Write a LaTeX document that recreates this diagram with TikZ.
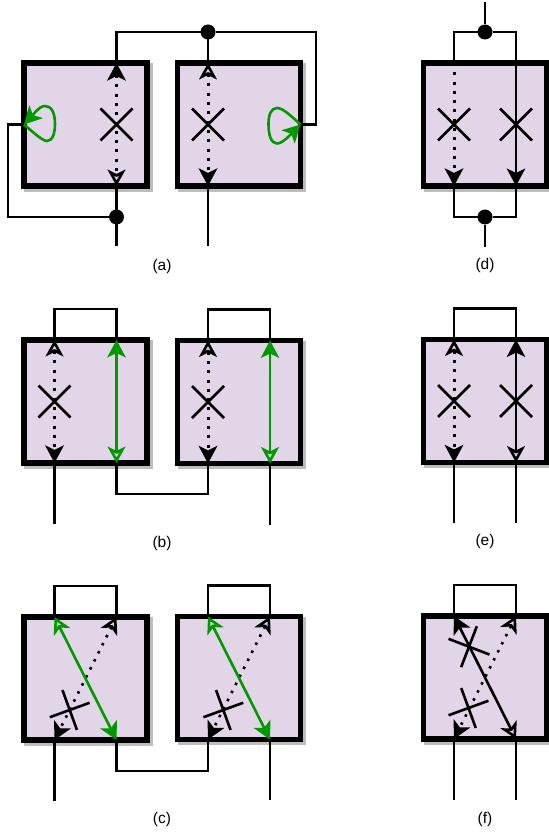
\documentclass[tikz,border=0pt]{standalone}
\usepackage{fontspec}
\setmainfont{Liberation Sans}
\usetikzlibrary{arrows.meta,shapes.misc}
\definecolor{boxc}{HTML}{E1D5E7}
\definecolor{shc}{HTML}{BDBDBD}
\definecolor{grn}{HTML}{009900}
\tikzset{
  fillt/.tip={Stealth[length=17.5pt,width=18.5pt,inset=4.5pt]},
  opent/.tip={Stealth[length=16.5pt,width=18pt,inset=4.5pt,line width=2.6pt,fill=boxc]},
  purplebox/.style={draw=black,line width=5.6pt,fill=boxc,minimum width=123pt,minimum height=123pt,inner sep=0pt,outer sep=0pt,
    preaction={draw=shc,fill=shc,line width=5.6pt,transform canvas={xshift=3pt,yshift=-3pt}}},
  wire/.style={draw=black,line width=2.6pt},
  greenwire/.style={draw=grn,line width=2.6pt},
  dotwire/.style={draw=black,line width=3pt,dash pattern=on 3pt off 6.3pt},
  dotdiag/.style={draw=black,line width=2.6pt,dash pattern=on 2.5pt off 6.5pt},
  junction/.style={circle,fill=black,minimum size=15pt,inner sep=0pt,outer sep=0pt},
  xmark/.style={cross out,draw=black,line width=2.6pt,minimum size=32pt,inner sep=0pt,outer sep=0pt},
  caption/.style={font=\fontsize{15.5}{18}\selectfont,inner sep=0pt},
}
\newcommand{\mkbox}[3]{%
  \node[purplebox] (#1) at (#2,#3) {};
  \coordinate (#1tl) at ([shift={(-31,-61.5)}]#1.center);
  \coordinate (#1tr) at ([shift={(31,-61.5)}]#1.center);
  \coordinate (#1bl) at ([shift={(-31,61.5)}]#1.center);
  \coordinate (#1br) at ([shift={(31,61.5)}]#1.center);
}
\begin{document}
\begin{tikzpicture}[x=1pt,y=-1pt]
\useasboundingbox (0,0) rectangle (548,834);
% boxes
\mkbox{aone}{85.5}{124.5}
\mkbox{atwo}{239}{124.5}
\mkbox{bone}{85.5}{401.5}
\mkbox{btwo}{239}{402}
\mkbox{cone}{85.5}{678.5}
\mkbox{ctwo}{239}{678}
\mkbox{dbox}{485}{124.5}
\mkbox{ebox}{485}{401}
\mkbox{fbox}{485}{677.5}
% (a)
\node[junction] (ja) at (208,32) {};
\node[junction] (jb) at (116.5,217) {};
\coordinate (ar) at (316,124.5);
\coordinate (al) at (8,124.5);
\coordinate (aendl) at (116.5,246);
\coordinate (aendr) at (208,246);
\draw[wire] (aonetr) |- (ja) -| (ar) -- (atwo.east);
\draw[wire] (ja) -- (atwotl);
\draw[wire] (aone.west) -- (al) |- (jb);
\draw[wire] (aonebr) -- (aendl);
\draw[wire] (atwobl) -- (aendr);
\draw[dotwire,{fillt}-{opent}] (aonetr) -- (aonebr);
\draw[dotwire,{opent}-{fillt}] (atwotl) -- (atwobl);
\draw[greenwire,-{fillt}] (aone.west) .. controls (35,134) and (43,141) .. (47,141) .. controls (53,141) and (55,132) .. (55,124) .. controls (55,112) and (51,106) .. (45,106) .. controls (39,106) and (33,115) .. (aone.west);
\draw[greenwire,-{fillt}] (atwo.east) .. controls (291,116) and (283,108) .. (277,108) .. controls (271,108) and (268.5,115) .. (268.5,124) .. controls (268.5,135) and (271,143.5) .. (277,143.5) .. controls (283,143.5) and (292,133) .. (atwo.east);
\node[xmark] (xa) at (116.5,124.5) {};
\node[xmark] (xb) at (208,124.5) {};
\node[caption] (la) at (162,266) {(a)};
% (b)
\coordinate (bendl) at (54.5,524);
\coordinate (bendr) at (270,525);
\draw[wire] (bonetl) -- ++(0,-31) -| (bonetr);
\draw[wire] (btwotl) -- ++(0,-31) -| (btwotr);
\draw[wire] (bonebr) -- ++(0,31) -| (btwobl);
\draw[wire] (bonebl) -- (bendl);
\draw[wire] (btwobr) -- (bendr);
\draw[dotwire,{opent}-{fillt}] (bonetl) -- (bonebl);
\draw[dotwire,{opent}-{fillt}] (btwotl) -- (btwobl);
\draw[greenwire,{fillt}-{opent}] (bonetr) -- (bonebr);
\draw[greenwire,{fillt}-{opent}] (btwotr) -- (btwobr);
\node[xmark] (xc) at (54.5,401.5) {};
\node[xmark] (xd) at (208,402) {};
\node[caption] (lb) at (162,543) {(b)};
% (c)
\coordinate (cendl) at (54.5,801);
\coordinate (cendr) at (270,800);
\draw[wire] (conetl) -- ++(0,-31) -| (conetr);
\draw[wire] (ctwotl) -- ++(0,-31) -| (ctwotr);
\draw[wire] (conebr) -- ++(0,31) -| (ctwobl);
\draw[wire] (conebl) -- (cendl);
\draw[wire] (ctwobr) -- (cendr);
\draw[dotdiag,{opent}-{fillt}] (conetr) -- (conebl);
\draw[dotdiag,{opent}-{fillt}] (ctwotr) -- (ctwobl);
\draw[greenwire,{opent}-{fillt}] (conetl) -- (conebr);
\draw[greenwire,{opent}-{fillt}] (ctwotl) -- (ctwobr);
\node[xmark,rotate=-25,minimum size=30pt] (xe) at (69.7,710) {};
\node[xmark,rotate=-25,minimum size=30pt] (xf) at (223.3,710) {};
\node[caption] (lc) at (162,819) {(c)};
% (d)
\node[junction] (jc) at (485,32) {};
\node[junction] (jd) at (485,217) {};
\coordinate (dtop) at (485,2);
\coordinate (dend) at (485,247);
\draw[wire] (dboxtl) |- (jc) -| (dboxtr);
\draw[wire] (dboxbl) |- (jd) -| (dboxbr);
\draw[wire] (dtop) -- (jc);
\draw[wire] (jd) -- (dend);
\draw[dotwire,-{fillt}] (dboxtl) -- (dboxbl);
\draw[wire,-{fillt}] (dboxtr) -- (dboxbr);
\node[xmark] (xg) at (454,124.5) {};
\node[xmark] (xh) at (516,124.5) {};
\node[caption] (ld) at (485,265) {(d)};
% (e)
\coordinate (eendl) at (454,523);
\coordinate (eendr) at (516,523);
\draw[wire] (eboxtl) -- ++(0,-31) -| (eboxtr);
\draw[wire] (eboxbl) -- (eendl);
\draw[wire] (eboxbr) -- (eendr);
\draw[dotwire,{opent}-{fillt}] (eboxtl) -- (eboxbl);
\draw[wire,{fillt}-{opent}] (eboxtr) -- (eboxbr);
\node[xmark] (xi) at (454,401) {};
\node[xmark] (xj) at (516,401) {};
\node[caption] (le) at (485,541) {(e)};
% (f)
\coordinate (fendl) at (454,800);
\coordinate (fendr) at (516,800);
\draw[wire] (fboxtl) -- ++(0,-31) -| (fboxtr);
\draw[wire] (fboxbl) -- (fendl);
\draw[wire] (fboxbr) -- (fendr);
\draw[dotdiag,{opent}-{fillt}] (fboxtr) -- (fboxbl);
\draw[wire,{fillt}-{opent}] (fboxtl) -- (fboxbr);
\node[xmark,rotate=-25,minimum size=30pt] (xk) at (468.5,708) {};
\node[xmark,rotate=24,minimum size=31pt] (xl) at (469,646.7) {};
\node[caption] (lf) at (485,819) {(f)};
\end{tikzpicture}
\end{document}
